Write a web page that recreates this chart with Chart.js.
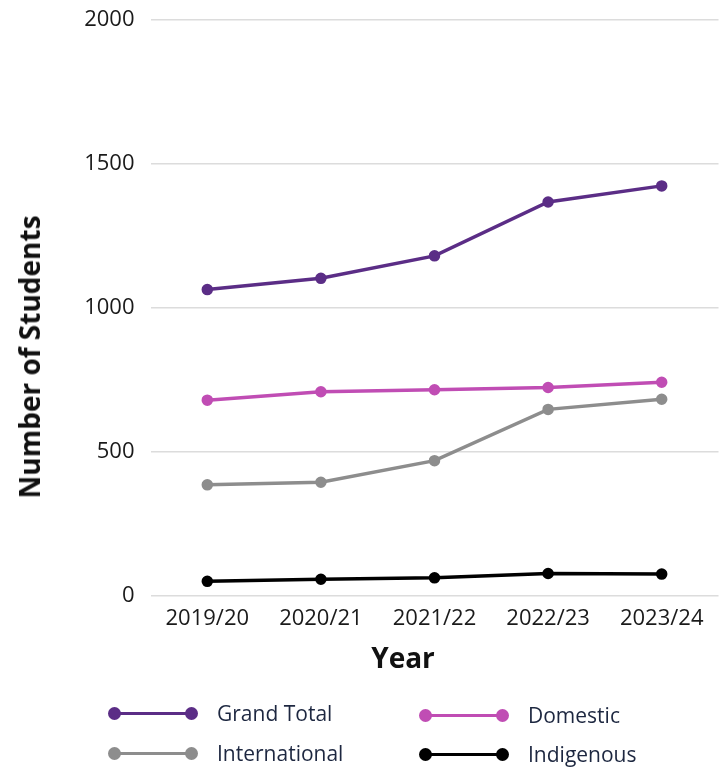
<!DOCTYPE html>
<html>
<head>
<meta charset="utf-8">
<script src="https://cdn.jsdelivr.net/npm/chart.js"></script>
<style>
  html, body { margin: 0; padding: 0; background: #fff; overflow: hidden; }
  #wrap { position: relative; width: 722px; height: 767px; overflow: hidden; }
  #myChart { position: absolute; left: 0; top: 0; }
  .axis-title { position: absolute; font-family: "Open Sans", sans-serif; font-weight: 700; color: #111; white-space: nowrap; }
  #yTitle { left: 29px; top: 357px; font-size: 28px; transform: translate(-50%, -50%) rotate(-90deg); }
  #xTitle { left: 403px; top: 657px; font-size: 28px; transform: translate(-50%, -50%); }
  #legend { position: absolute; left: 0; top: 0; width: 722px; height: 767px; pointer-events: none; }
  .item { position: absolute; display: flex; align-items: center; height: 30px; font-family: "Open Sans", sans-serif; font-size: 21px; color: #1d2740; }
  .marker { position: relative; width: 90px; height: 13px; margin-right: 19px; }
  .marker .ln { position: absolute; left: 6px; right: 6px; top: 5px; height: 3.5px; }
  .marker .dot { position: absolute; top: 0; width: 13px; height: 13px; border-radius: 50%; }
</style>
</head>
<body>
<div id="wrap">
  <canvas id="myChart" width="726" height="640" style="width:726px;height:640px"></canvas>
  <div id="yTitle" class="axis-title">Number of Students</div>
  <div id="xTitle" class="axis-title">Year</div>
  <div id="legend"></div>
</div>
<script>
  // Provided data
  const years = ['2019/20', '2020/21', '2021/22', '2022/23', '2023/24'];
  const grandTotal = [1064, 1103, 1181, 1368, 1424];
  const domestic = [680, 709, 716, 724, 742];
  const international = [386, 395, 470, 648, 683];
  const indigenous = [51, 58, 63, 78, 76];

  const colors = {
    grand: '#5b2d86',
    domestic: '#c04db4',
    international: '#8d8d8d',
    indigenous: '#000000'
  };

  function makeSet(label, data, color) {
    return {
      label: label,
      data: data,
      borderColor: color,
      backgroundColor: color,
      pointBackgroundColor: color,
      pointBorderColor: color,
      borderWidth: 3.5,
      pointRadius: 4,
      pointHoverRadius: 4,
      tension: 0,
      fill: false
    };
  }

  const config = {
    type: 'line',
    data: {
      labels: years,
      datasets: [
        makeSet('Grand Total', grandTotal, colors.grand),
        makeSet('Domestic', domestic, colors.domestic),
        makeSet('International', international, colors.international),
        makeSet('Indigenous', indigenous, colors.indigenous)
      ]
    },
    options: {
      responsive: false,
      animation: false,
      layout: { padding: { top: 20, right: 0, left: 0, bottom: 0 } },
      plugins: {
        legend: { display: false },
        title: { display: false },
        tooltip: { enabled: false }
      },
      scales: {
        x: {
          offset: true,
          grid: { display: false, drawTicks: false },
          border: { display: false },
          ticks: {
            color: '#1a1a1a',
            padding: 10,
            maxRotation: 0,
            font: { family: 'Open Sans', size: 22 }
          },
          afterFit: function (scale) { scale.height = 44; }
        },
        y: {
          min: 0,
          max: 2000,
          ticks: {
            stepSize: 500,
            color: '#1a1a1a',
            padding: 16,
            font: { family: 'Open Sans', size: 22 },
            callback: function (value) { return String(value); }
          },
          grid: { color: '#dcdcdc', lineWidth: 1.5, drawTicks: false },
          border: { display: false },
          afterFit: function (scale) {
            scale.width = 150.5;
            scale.paddingTop = 0;
            scale.paddingBottom = 0;
          }
        }
      }
    }
  };

  const ctx = document.getElementById('myChart').getContext('2d');
  const myChart = new Chart(ctx, config);

  // HTML legend built from the chart datasets
  const legendPos = [
    { left: 108, top: 698 },
    { left: 419, top: 700 },
    { left: 108, top: 738 },
    { left: 419, top: 739 }
  ];
  const legendEl = document.getElementById('legend');
  myChart.data.datasets.forEach(function (ds, i) {
    const item = document.createElement('div');
    item.className = 'item';
    item.style.left = legendPos[i].left + 'px';
    item.style.top = legendPos[i].top + 'px';
    const c = ds.borderColor;
    item.innerHTML =
      '<div class="marker">' +
        '<div class="ln" style="background:' + c + '"></div>' +
        '<div class="dot" style="left:0;background:' + c + '"></div>' +
        '<div class="dot" style="right:0;background:' + c + '"></div>' +
      '</div><span>' + ds.label + '</span>';
    legendEl.appendChild(item);
  });
</script>
</body>
</html>
